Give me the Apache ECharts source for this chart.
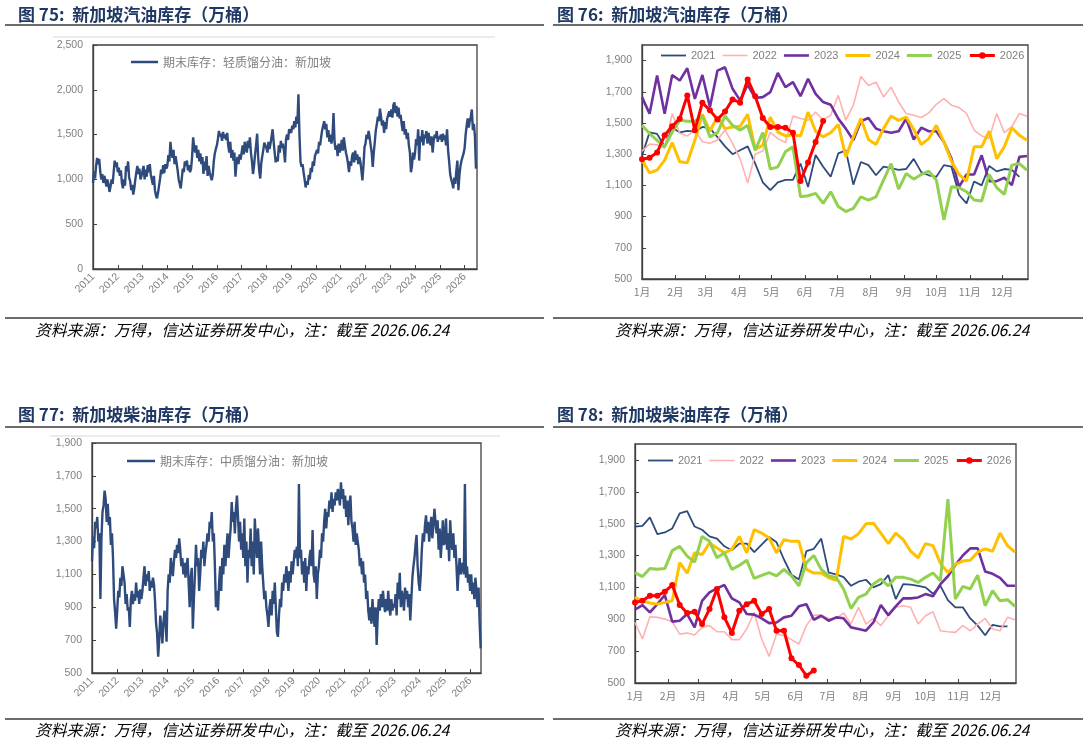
<!DOCTYPE html>
<html>
<head>
<meta charset="utf-8">
<title>新加坡汽油、柴油库存</title>
<script src="https://cdn.jsdelivr.net/npm/echarts@6/dist/echarts.min.js"></script>
<style>
  html, body { margin: 0; padding: 0; background: #fff; }
  #main { width: 1088px; height: 744px; }
</style>
</head>
<body>
<div id="main"></div>
<script>
// 图75：期末库存：轻质馏分油：新加坡（万桶），2011年起每年24个点
var lightStock = [
  960, 1090, 1010, 1150, 1240, 1170, 1230, 1090, 1000, 1060, 960, 1040, 990, 920, 1000, 940, 860, 920, 1000, 950, 1080, 1210, 1140, 1190, // 2011
  1080, 1130, 1040, 1100, 960, 900, 1000, 930, 1150, 1090, 1200, 1020, 980, 880, 940, 830, 900, 1000, 1080, 1150, 1060, 1120, 1000, 1040, // 2012
  1060, 1150, 1000, 1110, 1030, 1160, 1080, 1170, 1050, 1000, 940, 1040, 880, 820, 790, 850, 930, 1010, 1110, 1060, 1160, 1070, 1170, 1120, // 2013
  1150, 1270, 1200, 1420, 1300, 1240, 1330, 1170, 1260, 1180, 1100, 1000, 950, 900, 1010, 1120, 1080, 1200, 1150, 1210, 1100, 1160, 1080, 1120, // 2014
  1250, 1470, 1360, 1300, 1380, 1240, 1330, 1200, 1290, 1170, 1250, 1060, 1200, 1100, 1260, 1040, 1150, 1080, 1100, 990, 1050, 1200, 1290, 1340, // 2015
  1380, 1450, 1540, 1480, 1510, 1430, 1530, 1460, 1500, 1440, 1520, 1380, 1300, 1420, 1240, 1330, 1210, 1300, 1030, 1180, 1250, 1170, 1280, 1220, // 2016
  1300, 1380, 1280, 1420, 1350, 1300, 1430, 1350, 1470, 1300, 1200, 1060, 1150, 1280, 1380, 1510, 1250, 1100, 1010, 1180, 1260, 1330, 1410, 1380, // 2017
  1350, 1300, 1420, 1340, 1400, 1480, 1560, 1420, 1300, 1190, 1250, 1200, 1380, 1300, 1430, 1350, 1400, 1320, 1190, 1450, 1500, 1440, 1560, 1580, // 2018
  1520, 1600, 1560, 1650, 1580, 1700, 1620, 1950, 1500, 1200, 1140, 1170, 1080, 1000, 910, 980, 940, 1050, 1000, 1130, 1080, 1200, 1150, 1260, // 2019
  1250, 1330, 1290, 1420, 1380, 1470, 1550, 1600, 1650, 1560, 1620, 1470, 1550, 1420, 1500, 1400, 1480, 1740, 1420, 1330, 1380, 1260, 1400, 1300, // 2020
  1350, 1440, 1320, 1470, 1380, 1300, 1250, 1180, 1080, 1200, 1150, 1260, 1300, 1190, 1320, 1220, 1280, 1170, 1250, 1200, 1100, 990, 1150, 1360, // 2021
  1400, 1500, 1450, 1540, 1470, 1380, 1300, 1140, 1300, 1420, 1550, 1620, 1700, 1650, 1790, 1700, 1600, 1660, 1520, 1640, 1560, 1680, 1720, 1760, // 2022
  1700, 1780, 1690, 1830, 1860, 1740, 1820, 1700, 1800, 1680, 1720, 1620, 1540, 1650, 1500, 1560, 1450, 1520, 1380, 1300, 1080, 1150, 1300, 1220, // 2023
  1300, 1450, 1380, 1560, 1210, 1480, 1420, 1550, 1380, 1500, 1460, 1540, 1400, 1520, 1450, 1380, 1480, 1300, 1430, 1500, 1460, 1540, 1420, 1480, // 2024
  1450, 1500, 1420, 1510, 1440, 1490, 1380, 1560, 1320, 1200, 1060, 1000, 960, 900, 1020, 950, 1100, 1210, 880, 1050, 1150, 1210, 1250, 1290, // 2025
  1350, 1500, 1600, 1680, 1580, 1650, 1700, 1780, 1550, 1620, 1480, 1120 // 2026
];

// 图77：期末库存：中质馏分油：新加坡（万桶）
var middleStock = [
  1180, 1330, 1260, 1420, 1380, 1450, 1300, 1350, 950, 1320, 1480, 1520, 1610, 1560, 1420, 1530, 1400, 1450, 1280, 1350, 1200, 950, 870, 770, // 2011
  880, 1000, 960, 1080, 1030, 1150, 1100, 1050, 920, 980, 880, 900, 780, 950, 1000, 920, 980, 940, 1050, 960, 1000, 920, 1010, 950, // 2012
  1000, 1080, 1150, 1030, 1100, 1060, 1120, 1000, 1060, 1020, 1080, 1040, 940, 800, 740, 600, 700, 850, 780, 680, 800, 880, 820, 690, // 2013
  1000, 1100, 1050, 1200, 1140, 1090, 1180, 1250, 1200, 1280, 1230, 1320, 1250, 1150, 1200, 1100, 1170, 1080, 1150, 1200, 1050, 900, 1080, 1140, // 2014
  770, 950, 1100, 1280, 1150, 1200, 1000, 1100, 1250, 1200, 1300, 1150, 1230, 1280, 1350, 1300, 1420, 1380, 1480, 1300, 1350, 1150, 900, 1000, // 2015
  880, 1050, 1150, 1000, 1200, 1100, 1280, 1150, 1250, 1350, 1200, 1300, 1380, 1540, 1420, 1480, 1350, 1500, 1580, 1450, 1300, 1420, 1250, 1350, // 2016
  1200, 1440, 1150, 1300, 1050, 1250, 1200, 1380, 1150, 1300, 1100, 1440, 1300, 1200, 1380, 1250, 1100, 1300, 1150, 1050, 950, 1000, 900, 850, // 2017
  780, 900, 950, 850, 1000, 920, 1050, 900, 750, 720, 850, 950, 900, 1050, 1000, 1100, 1050, 1150, 1080, 1000, 1120, 1050, 1180, 1100, // 2018
  1100, 1250, 1200, 1270, 1150, 1650, 1200, 1250, 1100, 1180, 1050, 1200, 1000, 1150, 1100, 1200, 1250, 1150, 1370, 1100, 1050, 1150, 950, 1100, // 2019
  1150, 1250, 1200, 1350, 1300, 1420, 1500, 1380, 1480, 1450, 1550, 1500, 1600, 1480, 1560, 1520, 1600, 1550, 1620, 1580, 1520, 1660, 1560, 1620, // 2020
  1500, 1580, 1450, 1550, 1400, 1520, 1580, 1420, 1380, 1300, 1420, 1280, 1350, 1300, 1250, 1150, 1200, 1100, 1180, 1050, 1100, 950, 1000, 880, // 2021
  820, 900, 800, 950, 850, 780, 900, 670, 850, 950, 880, 980, 900, 1000, 920, 870, 950, 880, 1000, 900, 850, 950, 880, 920, // 2022
  900, 980, 850, 1050, 950, 1110, 900, 1000, 950, 880, 1020, 950, 1000, 900, 980, 820, 950, 1080, 1150, 1200, 1280, 1340, 1150, 1050, // 2023
  1000, 1100, 1250, 1350, 1300, 1400, 1460, 1350, 1420, 1300, 1380, 1450, 1320, 1400, 1500, 1420, 1350, 1430, 1250, 1380, 1200, 1300, 1430, 1280, // 2024
  1300, 1440, 1250, 1350, 1180, 1430, 1300, 1250, 1350, 1200, 1280, 1150, 1000, 1120, 1200, 1100, 1150, 1170, 1100, 1650, 1080, 1150, 1050, 1100, // 2025
  1000, 1100, 980, 1050, 950, 1080, 1000, 900, 1020, 810, 650 // 2026
];

// 图76：新加坡汽油库存，按周（万桶）
var gasoline2021 = [1290, 1440, 1430, 1350, 1470, 1440, 1450, 1445, 1475, 1465, 1410, 1350, 1300, 1325, 1350, 1240, 1120, 1070, 1120, 1135, 1135, 1240, 1090, 1295, 1220, 1155, 1305, 1325, 1105, 1250, 1230, 1165, 1220, 1210, 1200, 1205, 1270, 1185, 1165, 1155, 1230, 1220, 1040, 985, 1125, 1100, 1225, 1190, 1205, 1200, 1155];
var gasoline2022 = [1320, 1365, 1360, 1338, 1561, 1434, 1417, 1455, 1380, 1370, 1391, 1455, 1370, 1270, 1115, 1300, 1320, 1440, 1400, 1375, 1544, 1529, 1518, 1571, 1518, 1550, 1677, 1518, 1614, 1798, 1741, 1762, 1667, 1730, 1635, 1561, 1550, 1535, 1565, 1620, 1656, 1614, 1599, 1561, 1455, 1417, 1402, 1561, 1438, 1476, 1561, 1544];
var gasoline2023 = [1666, 1560, 1804, 1560, 1808, 1772, 1851, 1655, 1808, 1602, 1836, 1857, 1719, 1645, 1745, 1660, 1666, 1698, 1821, 1730, 1762, 1672, 1783, 1687, 1634, 1617, 1528, 1464, 1389, 1511, 1532, 1464, 1447, 1438, 1447, 1528, 1394, 1470, 1447, 1447, 1379, 1272, 1091, 1170, 1170, 1293, 1127, 1127, 1149, 1102, 1283, 1289];
var gasoline2024 = [1262, 1181, 1198, 1262, 1374, 1251, 1245, 1389, 1555, 1447, 1542, 1464, 1474, 1479, 1555, 1332, 1357, 1538, 1442, 1417, 1425, 1417, 1570, 1447, 1411, 1438, 1491, 1283, 1411, 1528, 1394, 1362, 1464, 1545, 1517, 1538, 1460, 1362, 1400, 1485, 1379, 1255, 1170, 1128, 1347, 1347, 1447, 1272, 1347, 1470, 1421, 1389];
var gasoline2025 = [1485, 1432, 1389, 1347, 1442, 1517, 1511, 1511, 1545, 1411, 1438, 1545, 1485, 1453, 1485, 1325, 1438, 1204, 1219, 1315, 1347, 1027, 1034, 1049, 985, 1059, 964, 932, 953, 1027, 1006, 1027, 1134, 1240, 1076, 1176, 1140, 1170, 1191, 1134, 879, 1091, 1085, 1059, 1006, 1000, 1170, 1085, 1042, 1230, 1240, 1198];
var gasoline2026 = [1268, 1277, 1311, 1421, 1479, 1528, 1677, 1453, 1630, 1581, 1523, 1574, 1651, 1630, 1779, 1672, 1532, 1474, 1474, 1470, 1438, 1128, 1247, 1379, 1513];

// 图78：新加坡柴油库存，按周（万桶）
var diesel2021 = [1482, 1486, 1540, 1435, 1445, 1470, 1565, 1579, 1482, 1462, 1420, 1406, 1358, 1333, 1375, 1375, 1321, 1369, 1416, 1383, 1275, 1180, 1150, 1327, 1342, 1406, 1193, 1182, 1165, 1110, 1136, 1148, 1100, 1121, 1177, 1027, 1121, 1117, 1110, 1100, 1060, 1110, 1020, 975, 975, 905, 860, 800, 865, 855, 855];
var diesel2022 = [880, 776, 916, 912, 901, 885, 807, 814, 801, 849, 860, 822, 822, 772, 772, 839, 943, 776, 667, 807, 797, 772, 745, 860, 926, 926, 905, 905, 939, 870, 975, 870, 905, 860, 922, 975, 985, 975, 870, 922, 947, 828, 822, 818, 860, 828, 870, 905, 839, 828, 912, 897];
var diesel2023 = [960, 989, 943, 995, 1052, 885, 891, 933, 849, 1016, 1069, 1094, 1115, 1031, 1006, 933, 929, 906, 876, 880, 912, 922, 981, 995, 897, 922, 891, 912, 906, 849, 839, 828, 880, 989, 926, 981, 1031, 1031, 1037, 1058, 1044, 1120, 1170, 1240, 1300, 1345, 1345, 1200, 1185, 1160, 1110, 1110];
var diesel2024 = [1037, 1016, 1002, 995, 1006, 1016, 1255, 1189, 1317, 1306, 1379, 1348, 1317, 1338, 1420, 1317, 1462, 1441, 1410, 1317, 1400, 1389, 1389, 1213, 1190, 1190, 1160, 1145, 1420, 1404, 1437, 1499, 1503, 1441, 1375, 1441, 1400, 1327, 1286, 1375, 1362, 1251, 1193, 1244, 1265, 1271, 1321, 1342, 1327, 1441, 1362, 1321];
var diesel2025 = [1193, 1168, 1218, 1214, 1218, 1331, 1358, 1296, 1259, 1420, 1389, 1286, 1317, 1213, 1238, 1271, 1156, 1176, 1193, 1172, 1213, 1172, 1110, 1255, 1300, 1213, 1172, 1162, 1090, 968, 1037, 1058, 1121, 1152, 1110, 1163, 1163, 1152, 1131, 1163, 1190, 1142, 1654, 1027, 1106, 1090, 1177, 985, 1079, 1016, 1023, 981];
var diesel2026 = [1006, 1016, 1048, 1048, 1073, 1115, 989, 939, 947, 870, 964, 1090, 912, 814, 954, 995, 1016, 933, 964, 828, 828, 655, 613, 546, 578];

var seasonYears = ['2021', '2022', '2023', '2024', '2025', '2026'];
var monthStarts = [0, 31, 59, 90, 120, 151, 181, 212, 243, 273, 304, 334];
var monthLabels = ['1月', '2月', '3月', '4月', '5月', '6月', '7月', '8月', '9月', '10月', '11月', '12月'];

var gasolineByYear = [gasoline2021, gasoline2022, gasoline2023, gasoline2024, gasoline2025, gasoline2026];
var dieselByYear = [diesel2021, diesel2022, diesel2023, diesel2024, diesel2025, diesel2026];

var navy = '#2E4B7C';
var yearColors = ['#2E4B7C', '#FFB1B1', '#7030A0', '#FFC000', '#92D050', '#FF0000'];
var yearWidths = [1.8, 1.6, 2.6, 3, 3, 3];
var axisGray = '#7F7F7F';
var boxColor = '#404040';

// 半月一个点，x 用年份小数
function toYearPairs(vals) {
  return vals.map(function (v, i) { return [2011 + i / 24, v]; });
}
// 每周一个点，x 用一年中的天数
function toWeekPairs(vals) {
  return vals.map(function (v, i) { return [i * 7, v]; });
}
function thousands(v) {
  return Number(v).toLocaleString('en-US');
}

function yearAxis(gi, max) {
  return {
    type: 'value', gridIndex: gi, min: 2011, max: max, interval: 1,
    axisLine: { show: true, onZero: false, lineStyle: { color: boxColor, width: 1.3 } },
    axisTick: { show: true, inside: true, length: 4, lineStyle: { color: boxColor } },
    splitLine: { show: false },
    axisLabel: {
      rotate: 45, margin: 6, color: axisGray, fontSize: 10.5, fontFamily: 'Liberation Sans',
      showMaxLabel: false,
      formatter: function (v) { return Math.abs(v - Math.round(v)) < 1e-6 ? String(Math.round(v)) : ''; }
    }
  };
}
function monthAxis(gi) {
  return {
    type: 'value', gridIndex: gi, min: 0, max: 358,
    axisLine: { show: true, onZero: false, lineStyle: { color: boxColor, width: 1.3 } },
    axisTick: { show: true, inside: true, length: 4, customValues: monthStarts, lineStyle: { color: boxColor } },
    splitLine: { show: false },
    axisLabel: {
      customValues: monthStarts, margin: 8, color: axisGray, fontSize: 10.5, fontFamily: 'Noto Sans CJK SC',
      formatter: function (v) { var k = monthStarts.indexOf(v); return k >= 0 ? monthLabels[k] : ''; }
    }
  };
}
function valueAxis(gi, min, max, step, showMax) {
  return {
    type: 'value', gridIndex: gi, min: min, max: max, interval: step,
    axisLine: { show: true, onZero: false, lineStyle: { color: boxColor, width: 1.3 } },
    axisTick: { show: true, inside: true, length: 4, lineStyle: { color: boxColor } },
    splitLine: { show: false },
    axisLabel: { margin: 10, color: axisGray, fontSize: 10.5, fontFamily: 'Liberation Sans', showMaxLabel: showMax, formatter: thousands }
  };
}

function seasonSeries(list, xi) {
  return list.map(function (vals, k) {
    var isLast = k === list.length - 1;
    return {
      name: seasonYears[k], type: 'line', xAxisIndex: xi, yAxisIndex: xi,
      data: toWeekPairs(vals),
      symbol: isLast ? 'circle' : 'none', symbolSize: 6, showSymbol: isLast,
      lineStyle: { color: yearColors[k], width: yearWidths[k] },
      itemStyle: { color: yearColors[k] }
    };
  });
}
function seasonLegend(left, top) {
  return {
    left: left, top: top, padding: 0, itemWidth: 25, itemHeight: 8, itemGap: 7,
    itemStyle: { borderWidth: 0 },
    lineStyle: { width: 'inherit' },
    textStyle: { color: axisGray, fontSize: 11, fontFamily: 'Liberation Sans' },
    data: seasonYears.map(function (y, k) {
      if (k === seasonYears.length - 1) return { name: y };
      var h = yearWidths[k];
      return { name: y, icon: 'path://M0,0H25V' + h + 'H0Z' };
    })
  };
}

var lightName = '期末库存：轻质馏分油：新加坡';
var middleName = '期末库存：中质馏分油：新加坡';
var sourceText = '资料来源：万得，信达证券研发中心，注：截至 2026.06.24';

function rule(x1, x2, y) {
  return { type: 'line', shape: { x1: x1, y1: y, x2: x2, y2: y }, style: { stroke: '#3A3A3A', lineWidth: 1.5 } };
}
function thinRule(x1, x2, y) {
  return { type: 'line', shape: { x1: x1, y1: y, x2: x2, y2: y }, style: { stroke: '#D9D9D9', lineWidth: 1 } };
}
function heading(x, y, text) {
  return { type: 'text', x: x, y: y, style: { text: text, fill: '#1F3864', font: 'bold 17px "Noto Sans CJK SC"', verticalAlign: 'middle' } };
}
function source(x, y) {
  return { type: 'text', x: x, y: y, style: { text: sourceText, fill: '#000', font: 'italic 15.8px "Noto Sans CJK SC"', verticalAlign: 'middle' } };
}

var myChart = echarts.init(document.getElementById('main'), null, { renderer: 'canvas' });

var option = {
  animation: false,
  backgroundColor: '#fff',
  textStyle: { fontFamily: 'Noto Sans CJK SC' },
  grid: [
    { left: 93, top: 45, width: 384, height: 224, show: true, borderColor: boxColor, borderWidth: 1.3 },
    { left: 642, top: 45, width: 386, height: 234, show: true, borderColor: boxColor, borderWidth: 1.3 },
    { left: 92, top: 443, width: 389, height: 230, show: true, borderColor: boxColor, borderWidth: 1.3 },
    { left: 635, top: 444, width: 381, height: 239, show: true, borderColor: boxColor, borderWidth: 1.3 }
  ],
  xAxis: [yearAxis(0, 2026.5), monthAxis(1), yearAxis(2, 2026.43), monthAxis(3)],
  yAxis: [
    valueAxis(0, 0, 2500, 500, true),
    valueAxis(1, 500, 2000, 200, false),
    valueAxis(2, 500, 1900, 200, true),
    valueAxis(3, 500, 2000, 200, false)
  ],
  legend: [
    {
      left: 131, top: 56, padding: 0, itemWidth: 27, itemHeight: 8, itemStyle: { borderWidth: 0 },
      textStyle: { color: axisGray, fontSize: 12 },
      data: [{ name: lightName, icon: 'path://M0,0H27V2.5H0Z' }]
    },
    seasonLegend(661, 50),
    {
      left: 127, top: 455, padding: 0, itemWidth: 28, itemHeight: 8, itemStyle: { borderWidth: 0 },
      textStyle: { color: axisGray, fontSize: 12 },
      data: [{ name: middleName, icon: 'path://M0,0H28V2.5H0Z' }]
    },
    seasonLegend(648, 455)
  ],
  graphic: [
    heading(18, 15, '图 75:  新加坡汽油库存（万桶）'),
    heading(557, 15, '图 76:  新加坡汽油库存（万桶）'),
    heading(18, 415, '图 77:  新加坡柴油库存（万桶）'),
    heading(557, 415, '图 78:  新加坡柴油库存（万桶）'),
    rule(5, 544, 25), rule(553, 1083, 25),
    rule(5, 544, 318), rule(553, 1083, 318),
    rule(5, 544, 427), rule(553, 1083, 427),
    rule(5, 544, 719), rule(553, 1083, 719),
    thinRule(53, 495, 37), thinRule(50, 500, 436),
    source(35, 330), source(615, 330),
    source(35, 730), source(615, 730)
  ],
  series: [
    {
      name: lightName, type: 'line', xAxisIndex: 0, yAxisIndex: 0,
      data: toYearPairs(lightStock), symbol: 'none',
      lineStyle: { color: navy, width: 2.4 }, itemStyle: { color: navy }
    },
    {
      name: middleName, type: 'line', xAxisIndex: 2, yAxisIndex: 2,
      data: toYearPairs(middleStock), symbol: 'none',
      lineStyle: { color: navy, width: 2.4 }, itemStyle: { color: navy }
    }
  ].concat(seasonSeries(gasolineByYear, 1)).concat(seasonSeries(dieselByYear, 3))
};

myChart.setOption(option);
</script>
</body>
</html>
